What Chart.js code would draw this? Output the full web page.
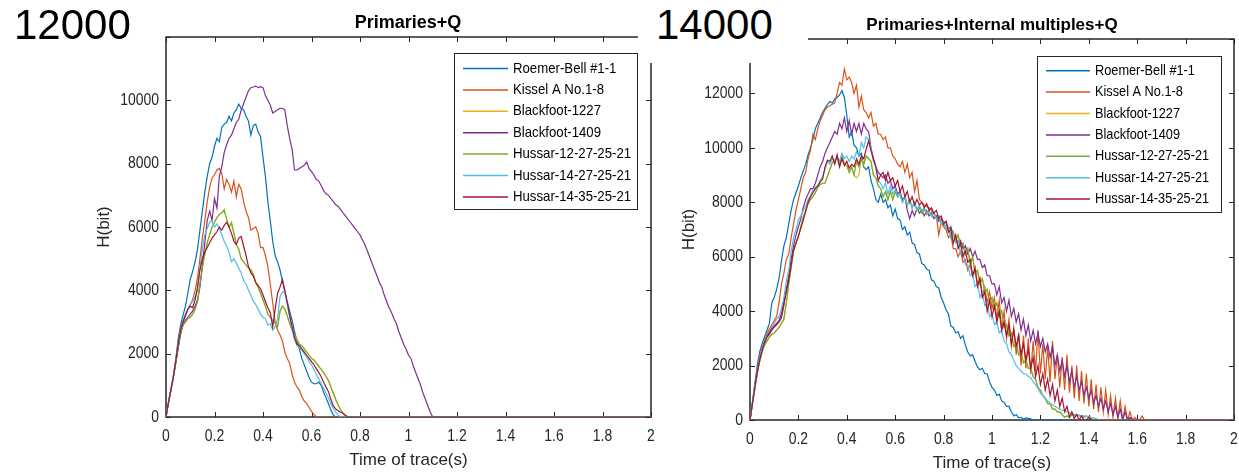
<!DOCTYPE html>
<html><head><meta charset="utf-8">
<script src="https://cdn.jsdelivr.net/npm/chart.js@4.4.1/dist/chart.umd.min.js"></script>
<style>
html,body{margin:0;padding:0;background:#fff;width:1239px;height:476px;overflow:hidden;}
#c1{position:absolute;left:0;top:0;}
#c2{position:absolute;left:640px;top:0;}
.big{position:absolute;font-family:"Liberation Sans",Arial,sans-serif;font-size:42px;line-height:42px;color:#000;white-space:nowrap;}
.ttl{position:absolute;font-family:"Liberation Sans",Arial,sans-serif;font-weight:bold;color:#000;white-space:nowrap;transform:translateX(-50%);}
#mask{position:absolute;left:638px;top:0;width:170px;height:63px;background:#fff;}
</style></head><body>
<canvas id="c1" width="660" height="476"></canvas>
<canvas id="c2" width="599" height="476"></canvas>
<div id="mask"></div>
<div class="big" style="left:14px;top:4px">12000</div>
<div class="big" style="left:656px;top:4px">14000</div>
<div class="ttl" style="left:408px;top:13px;font-size:18px;line-height:18px">Primaries+Q</div>
<div class="ttl" style="left:992px;top:16px;font-size:17px;line-height:17px">Primaries+Internal multiples+Q</div>
<script>
// ---------- data ----------
const DT = 0.01; // sampling interval of the traces (s)
const seriesNames = ['Roemer-Bell #1-1','Kissel A No.1-8','Blackfoot-1227','Blackfoot-1409','Hussar-12-27-25-21','Hussar-14-27-25-21','Hussar-14-35-25-21'];
const seriesColors = ['#0072BD','#D95319','#EDB120','#7E2F8E','#77AC30','#4DBEEE','#A2142F'];
const xTicks = [0,0.2,0.4,0.6,0.8,1,1.2,1.4,1.6,1.8,2];
const xTickLabels = ['0','0.2','0.4','0.6','0.8','1','1.2','1.4','1.6','1.8','2'];
const p1YTicks = [0,2000,4000,6000,8000,10000,12000];
const p1YTickLabels = ['0','2000','4000','6000','8000','10000',''];
const p2YTicks = [0,2000,4000,6000,8000,10000,12000,14000];
const p2YTickLabels = ['0','2000','4000','6000','8000','10000','12000',''];

// Panel 1: Primaries+Q
const p1_roemer = [0,450,850,1250,1800,2450,2900,3200,3500,3900,
4350,4600,4900,5300,5900,6500,7100,7600,8000,8200,
8550,8800,8700,9150,9250,9300,9500,9350,9600,9700,
9880,9750,9700,9500,9350,8900,9200,9250,9000,8850,
8200,7600,6800,6200,5550,5100,4900,4650,4300,3950,
3650,3350,3050,2700,2400,2150,1850,1650,1450,1250,
1100,1050,1050,1100,1000,780,600,420,220,60,
0];
const p1_kissel = [0,450,850,1250,1700,2200,2700,3000,3200,3400,
3550,3700,4000,4400,5000,5650,6200,6800,7250,7550,
7650,7800,7850,7700,7200,7500,7350,7100,7450,6950,
7350,7200,6800,6500,6300,5900,5950,6000,5800,5350,
5350,5100,4750,4200,3600,3000,2750,2600,2400,2050,
1850,1700,1350,1100,950,850,650,500,430,300,
180,80,0];
const p1_bf1227 = [0,450,850,1250,1700,2200,2650,2900,3000,3100,
3150,3250,3400,3650,4200,4700,5150,5500,5750,6000,
6150,6300,6400,6450,6500,6250,6000,6100,5800,5450,
5300,5000,4900,4800,4700,4650,4500,4250,4100,3900,
3700,3500,3250,3150,3050,2950,2850,3300,3500,3400,
3200,2950,2750,2600,2450,2300,2250,2150,2050,1950,
1850,1800,1700,1600,1500,1400,1280,1150,950,750,
550,380,230,110,30,0];
const p1_bf1409 = [0,450,850,1250,1700,2150,2600,2900,3050,3150,
3250,3350,3500,3700,4100,4800,5500,6200,6500,6200,
6900,6600,7600,7900,8350,8600,8800,8900,9100,9300,
9400,9700,9900,10100,10300,10400,10420,10450,10400,10430,
10400,10150,10000,9850,9600,9650,9700,9750,9750,9700,
9200,8800,8450,7800,7800,7850,7900,7950,8050,7850,
7750,7650,7500,7450,7300,7150,7050,7000,6900,6800,
6700,6650,6550,6450,6350,6250,6150,6050,5950,5850,
5750,5600,5450,5250,5050,4850,4650,4450,4250,4100,
3850,3650,3450,3300,3100,2950,2700,2500,2300,2150,
1950,1850,1600,1400,1200,1000,750,550,350,150,
0];
const p1_h12 = [0,450,850,1250,1700,2200,2650,2900,3000,3100,
3150,3250,3400,3650,4200,4700,5150,5500,5750,6000,
6150,6300,6400,6450,6550,6250,6000,6150,5800,5450,
5300,5000,4900,4800,4700,4650,4500,4250,4100,3900,
3700,3500,3250,3150,3050,2950,2850,3350,3500,3400,
3200,2950,2750,2600,2450,2300,2250,2150,2050,1950,
1850,1800,1700,1600,1500,1400,1280,1150,950,750,
550,380,230,110,30,0];
const p1_h1427 = [0,450,850,1300,1800,2350,2800,3050,3250,3400,
3550,3650,3800,4000,4700,5300,5750,5950,6150,6200,
6000,6100,5950,5750,5550,5400,5200,4900,5000,4850,
4700,4550,4300,4200,4000,3850,3650,3550,3400,3250,
3150,3100,2900,2950,2750,2850,3100,3800,3950,3950,
3550,3150,2750,2450,2250,2200,2100,2000,1900,1750,
1650,1500,1350,1200,1050,900,750,600,420,270,
150,60,0];
const p1_h1435 = [0,450,850,1250,1750,2300,2750,3000,3200,3400,
3500,3450,3700,4100,4650,5000,5200,5350,5500,5650,
5750,5850,6000,5900,6050,6150,6000,5800,5550,5450,
5650,5700,5400,5100,4750,4550,4450,4250,4150,4050,
3850,3650,3450,3300,2850,3400,3900,4100,4350,4000,
3600,3200,2850,2500,2300,2250,2150,2050,1950,1850,
1750,1650,1520,1400,1270,1100,950,800,550,350,
250,200,150,120,60,0];

// Panel 2: Primaries+Internal multiples+Q
const p2_roemer = [0,650,1350,2000,2500,2800,3050,3300,3550,4300,
4500,4800,5200,5850,6400,6700,7200,7700,8100,8350,
8600,8900,9150,9400,9750,10000,10300,10700,10900,11100,
11300,11450,11600,11700,11650,11800,11850,11950,12100,11850,
11200,10400,10600,10100,10000,9700,9800,9300,9200,9300,
8800,8500,8100,8000,8300,8000,8100,7800,7900,7500,
7750,7400,7350,7000,7100,6800,6900,6500,6450,6150,
6100,5750,5700,5550,5500,5150,5100,4900,4850,4500,
4300,4050,3900,3450,3400,3200,3250,3000,3100,2750,
2500,2350,2400,2150,1950,1850,1900,1700,1700,1400,
1200,1100,900,950,700,650,500,500,300,150,
200,80,100,30,80,60,40,0];
const p2_kissel = [0,600,1250,1850,2300,2650,2900,3150,3350,3500,
3650,3800,4300,5000,5400,5900,6100,6700,7200,7700,
8100,8500,8900,9100,9600,9900,10500,10300,10700,11000,
11200,11400,11500,11550,11600,11650,12000,12400,12300,12900,
12500,12600,12400,12000,12300,11500,11900,11400,11300,11100,
11300,10800,10900,10500,10500,10300,10400,10000,10000,9700,
9600,9400,9300,9500,9100,9400,8900,9100,8400,8800,
8100,8000,7900,7850,7800,7700,7550,7500,6800,7250,
7100,7000,6700,6800,6300,6300,6000,6200,5800,5900,
5500,5700,5300,5500,5000,5200,4600,4900,4300,4700,
4100,4500,3700,4400,3300,4000,3000,3700,2700,3400,
2400,3200,2000,3100,1900,3000,1700,2900,1800,3300,
1700,2800,1500,2700,1400,2900,1500,2400,1200,2300,
1100,2400,1000,2000,800,2000,700,1800,600,1700,
500,1500,400,1300,300,1200,300,1100,200,900,
100,800,50,700,0,500,0,300,0,100,
0,0,150,0];
const p2_bf1227 = [0,600,1150,1700,2150,2500,2750,2900,3050,3150,
3200,3300,3400,3550,3700,4300,5000,5600,6200,6500,
6750,7100,7450,7700,7950,8100,8200,8350,8550,8650,
8700,8700,8950,9200,9450,9550,9600,9350,9700,9400,
9350,9100,9300,9000,8900,9000,9600,9400,9700,9600,
9500,9000,8900,8600,8500,8200,8400,8100,8400,8100,
8400,8200,8300,8000,8200,7900,8100,7800,8000,7700,
7800,7600,7750,7550,7700,7500,7600,7400,7500,7200,
7300,7000,7100,6700,6900,6600,6800,6400,6500,6100,
6300,5700,6000,5400,5500,5000,5200,4700,4800,4300,
4500,4100,4300,3800,4000,3400,3500,3100,3200,2700,
2800,2400,2500,2100,2200,1900,1900,1600,1500,1200,
1100,900,800,600,600,400,400,300,300,200,
100,150,100,200,150,200,150,150,100,150,
100,50,0];
const p2_bf1409 = [0,600,1200,1800,2250,2600,2850,3050,3150,3300,
3400,3500,3600,3750,4200,4800,5300,5900,6400,6800,
7100,7400,7800,8100,8300,8500,8500,8700,9000,9300,
9500,9800,10000,10200,10400,10600,10500,10900,10700,11100,
10600,11000,10500,10900,10600,10900,10500,10900,10700,10600,
10000,9600,9300,9100,9000,8900,9000,8700,8800,8500,
8600,8300,8400,8100,8200,7700,7400,7700,7500,7800,
7600,7700,7500,7700,7500,7600,7400,7500,7300,7400,
7200,7300,7000,7100,6800,6700,6500,6600,6300,6400,
6100,6300,6000,6200,5900,5900,5600,5700,5300,5300,
5000,5000,4600,4900,4300,4500,4000,4400,3800,4100,
3600,3900,3300,3700,3100,3500,2900,3300,2800,3200,
2700,3000,2500,2800,2300,2700,2000,2400,1800,2200,
1600,2000,1400,1800,1200,1600,1100,1400,900,1200,
800,1100,600,900,500,800,400,700,300,600,
200,500,100,400,0,300,0,100,0];
const p2_h12 = [0,600,1150,1700,2150,2500,2750,2900,3050,3150,
3200,3300,3400,3550,3700,4300,5000,5600,6200,6500,
6750,7100,7450,7700,7950,8100,8200,8350,8550,8650,
8700,8700,8950,9200,9450,9550,9600,9350,9700,9400,
9350,9100,9300,9000,9500,9300,9600,9400,9700,9600,
9500,9000,8900,8600,8500,8200,8400,8100,8400,8100,
8400,8200,8300,8000,8200,7900,8100,7800,8000,7700,
7800,7600,7750,7550,7700,7500,7600,7400,7500,7200,
7300,7000,7100,6700,6900,6600,6800,6400,6500,6100,
6300,5700,6000,5400,5500,5000,5200,4700,4800,4300,
4500,4100,4300,3800,4000,3400,3500,3100,3200,2700,
2800,2400,2500,2100,2200,1900,1900,1600,1500,1200,
1100,900,800,600,600,400,400,300,300,200,
100,150,100,200,150,200,150,150,100,150,
100,50,0];
const p2_h1427 = [0,650,1250,1800,2250,2600,2850,3050,3250,3400,
3550,3700,3800,4100,4500,5100,5500,6200,6700,7000,
7350,7500,7700,7850,8100,8250,8450,8550,8600,8800,
8950,9200,9500,9400,9600,9500,9700,9500,9800,9600,
9700,9500,9700,9600,9850,9700,10200,10000,10400,10300,
10000,9500,9300,8800,8700,8500,8700,8300,8600,8300,
8500,8200,8300,8000,8200,7900,8100,7800,8000,7700,
7900,7700,7800,7600,7700,7500,7600,7400,7500,7200,
7300,7000,7100,6700,6800,6500,6600,6100,6200,5700,
5700,5300,5400,4900,5000,4500,4700,4200,4300,3800,
3900,3500,3600,3200,3300,2900,2800,2500,2400,2200,
2000,1900,1800,1700,1700,1600,1550,1400,1300,1150,
1000,900,800,700,620,560,500,450,400,350,
350,300,250,250,200,200,180,150,150,120,
120,100,80,50,0];
const p2_h1435 = [0,600,1200,1750,2200,2550,2850,3050,3200,3350,
3450,3550,3650,3900,4300,4700,5150,5700,6250,6500,
6750,7050,7350,7650,8000,8200,8350,8500,8600,8750,
8850,9300,9550,9500,9700,9400,9750,9300,9600,9350,
9500,9250,9400,9300,9600,9400,9700,9600,9950,10250,
9900,9600,9300,8800,9000,9100,8800,9100,8800,8900,
8600,8800,8400,8600,8200,8400,8000,8200,7900,8100,
7900,8000,7800,7950,7700,7800,7600,7700,7400,7500,
7200,7300,6900,7000,6500,6800,6300,6500,6000,6200,
5800,5900,5300,5600,4900,5200,4500,4700,4000,4400,
3800,4200,3600,4000,3300,3600,3100,3500,2800,3300,
2700,3100,2400,2800,2200,2600,1900,2300,1600,2000,
1300,1700,1100,1500,900,1300,700,1100,500,800,
300,500,100,300,50,200,0,150,0,0,
100,0];

const panel1Series = [p1_roemer,p1_kissel,p1_bf1227,p1_bf1409,p1_h12,p1_h1427,p1_h1435];
const panel2Series = [p2_roemer,p2_kissel,p2_bf1227,p2_bf1409,p2_h12,p2_h1427,p2_h1435];

// ---------- drawing ----------
const FONT = '"Liberation Sans", Arial, sans-serif';
const AX = '#262626';

function toPoints(vals){
  const pts = vals.map((v,i)=>({x: Math.round(i*100)*DT/1, y: v}));
  pts.forEach((p,i)=>{p.x = +(i*DT).toFixed(2);});
  pts.push({x: 2, y: 0});
  return pts;
}

function squishText(ctx, text, x, y, align, sx){
  ctx.save(); ctx.translate(x,y); ctx.scale(sx,1); ctx.textAlign = align; ctx.fillText(text,0,0); ctx.restore();
}

function axesPlugin(yLabels){
  return {
    id: 'matlabAxes',
    beforeDatasetsDraw(chart){
      const {ctx, chartArea:a, scales:{x,y}} = chart;
      ctx.save();
      ctx.strokeStyle = AX; ctx.lineWidth = 1.5;
      ctx.strokeRect(a.left, a.top, a.right-a.left, a.bottom-a.top);
      ctx.lineWidth = 1;
      const L = 5;
      ctx.beginPath();
      x.ticks.forEach(t=>{ const px = Math.round(x.getPixelForValue(t.value))+0.5;
        ctx.moveTo(px,a.bottom); ctx.lineTo(px,a.bottom-L); ctx.moveTo(px,a.top); ctx.lineTo(px,a.top+L); });
      y.ticks.forEach(t=>{ const py = Math.round(y.getPixelForValue(t.value))+0.5;
        ctx.moveTo(a.left,py); ctx.lineTo(a.left+L,py); ctx.moveTo(a.right,py); ctx.lineTo(a.right-L,py); });
      ctx.stroke();
      ctx.restore();
    },
    afterDraw(chart){
      const {ctx, chartArea:a, scales:{x,y}} = chart;
      ctx.save();
      ctx.fillStyle = AX; ctx.font = '17px ' + FONT; ctx.textBaseline = 'middle';
      x.ticks.forEach((t,i)=>{ squishText(ctx, xTickLabels[i], x.getPixelForValue(t.value), a.bottom+19, 'center', 0.82); });
      y.ticks.forEach((t,i)=>{ squishText(ctx, yLabels[i], a.left-7, y.getPixelForValue(t.value), 'right', 0.82); });
      ctx.restore();
    }
  };
}

function legendPlugin(g){
  return {
    id: 'boxLegend',
    afterDraw(chart){
      const {ctx} = chart;
      ctx.save();
      ctx.fillStyle = '#fff'; ctx.fillRect(g.x, g.y, g.w, g.h);
      ctx.strokeStyle = AX; ctx.lineWidth = 1;
      ctx.strokeRect(g.x+0.5, g.y+0.5, g.w, g.h);
      ctx.font = '15px ' + FONT; ctx.textBaseline = 'middle';
      chart.data.datasets.forEach((ds,i)=>{
        const ry = g.y0 + i*g.dy;
        ctx.strokeStyle = ds.borderColor; ctx.lineWidth = 1.5;
        ctx.beginPath(); ctx.moveTo(g.l0, ry); ctx.lineTo(g.l1, ry); ctx.stroke();
        ctx.fillStyle = '#000';
        squishText(ctx, ds.label, g.tx, ry, 'left', g.sx);
      });
      ctx.restore();
    }
  };
}

function makeChart(id, series, yMax, yTicks, yLabels, geo, leg){
  const datasets = series.map((vals,i)=>({
    label: seriesNames[i], data: toPoints(vals), borderColor: seriesColors[i],
    backgroundColor: seriesColors[i], borderWidth: 1.2, pointRadius: 0, tension: 0,
    fill: false, order: series.length - i
  }));
  return new Chart(document.getElementById(id), {
    type: 'line',
    data: { datasets },
    options: {
      responsive: false, animation: false, devicePixelRatio: 1, parsing: true,
      layout: { padding: { left: 0, right: geo.pr, top: geo.pt, bottom: 0 } },
      plugins: { legend: { display: false }, tooltip: { enabled: false }, title: { display: false } },
      scales: {
        x: { type: 'linear', min: 0, max: 2,
          afterBuildTicks: s => { s.ticks = xTicks.map(v=>({value:v})); },
          afterFit: s => { s.height = geo.xh; },
          ticks: { display: false }, grid: { display: false }, border: { display: false },
          title: { display: true, text: 'Time of trace(s)', color: AX, font: { family: FONT, size: 17 }, padding: { top: 0, bottom: geo.xtb } } },
        y: { type: 'linear', min: 0, max: yMax,
          afterBuildTicks: s => { s.ticks = yTicks.map(v=>({value:v})); },
          afterFit: s => { s.width = geo.yw; },
          ticks: { display: false }, grid: { display: false }, border: { display: false },
          title: { display: true, text: 'H(bit)', color: AX, font: { family: FONT, size: 17 }, padding: { top: geo.ytp, bottom: 0 } } }
      }
    },
    plugins: [axesPlugin(yLabels), legendPlugin(leg)]
  });
}

makeChart('c1', panel1Series, 12000, p1YTicks, p1YTickLabels,
  { pr: 9, pt: 37, xh: 59, yw: 166, xtb: 5, ytp: 94 },
  { x: 454, y: 53, w: 183, h: 156, y0: 68.5, dy: 21.4, l0: 463, l1: 508, tx: 513, sx: 0.88 });
makeChart('c2', panel2Series, 14000, p2YTicks, p2YTickLabels,
  { pr: 5, pt: 39, xh: 56, yw: 110, xtb: 2, ytp: 39 },
  { x: 397, y: 56, w: 184, h: 156, y0: 70.7, dy: 21.4, l0: 406, l1: 450, tx: 455, sx: 0.85 });
</script>
</body></html>
